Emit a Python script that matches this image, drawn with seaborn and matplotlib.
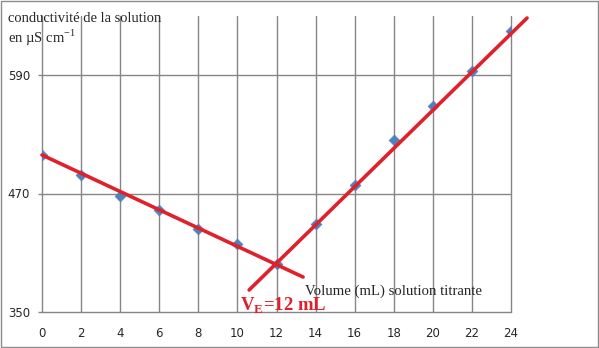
import matplotlib
matplotlib.use("Agg")
import matplotlib.pyplot as plt
import seaborn as sns
import pandas as pd
from matplotlib.patches import Rectangle

# Data
volume = [0, 2, 4, 6, 8, 10, 12, 14, 16, 18, 20, 22, 24]
conductivity = [509, 489, 467.5, 453, 434, 419, 399, 439, 479, 524, 559, 594, 635]
fit1_x = [0, 13.36]
fit1_y = [509, 385.4]
fit2_x = [10.6, 24.82]
fit2_y = [372.3, 647.7]
x_ticks = [0, 2, 4, 6, 8, 10, 12, 14, 16, 18, 20, 22, 24]
y_ticks = [350, 470, 590]

df = pd.DataFrame({"volume": volume, "conductivity": conductivity})
df1 = pd.DataFrame({"x": fit1_x, "y": fit1_y})
df2 = pd.DataFrame({"x": fit2_x, "y": fit2_y})

sns.set_style("white")
plt.rcParams['font.family'] = ['DejaVu Sans']

fig = plt.figure(figsize=(5.99, 3.48), dpi=100)
ax = fig.add_axes([42/599, 1-312/348, (511-42)/599, (312-15.75)/348])

grid_c = "#868686"
ax.set_xlim(0, 24)
ax.set_ylim(350, 650)
ax.set_xticks(x_ticks)
ax.set_yticks(y_ticks)
for xv in x_ticks:
    ax.axvline(xv, color=grid_c, lw=1.0, zorder=1)
for yv in y_ticks:
    ax.axhline(yv, color=grid_c, lw=1.0, zorder=1)
for s in ax.spines.values():
    s.set_visible(False)

sns.scatterplot(data=df, x="volume", y="conductivity", ax=ax, marker="D",
                s=30, color="#4F81BD", edgecolor="#4F81BD", linewidth=0.5, zorder=3)
sns.lineplot(data=df1, x="x", y="y", ax=ax, color="#E0202A", lw=2.6, zorder=4)
sns.lineplot(data=df2, x="x", y="y", ax=ax, color="#E0202A", lw=2.6, zorder=4)
for ln in ax.lines:
    ln.set_clip_on(False)

ax.tick_params(axis="y", which="both", left=True, length=3, width=1, color=grid_c,
               labelsize=8.5, pad=5.5)
ax.tick_params(axis="x", which="both", bottom=False, labelsize=8.5, pad=7)
ax.set_xlabel("")
ax.set_ylabel("")

serif = ["Liberation Serif", "DejaVu Serif"]
fig.text(8/599, 1-18/348, "conductivité de la solution", family=serif,
         fontsize=10.5, va="center", ha="left")
fig.text(8/599, 1-38/348, r"en µS cm$^\mathregular{-1}$", family=serif,
         fontsize=10.5, va="center", ha="left")
fig.text(305/599, 1-291/348, "Volume (mL) solution titrante",
         family=serif, fontsize=10.6, va="center", ha="left")
fig.text(240/599, 1-306/348, r"V$_\mathregular{E}$=12 mL", family=serif,
         fontsize=13.5, fontweight="bold", color="#E0202A", va="center", ha="left")

fig.add_artist(Rectangle((1/599, 1/348), 597/599, 346/348, transform=fig.transFigure,
                         fill=False, edgecolor="#8C8C8C", lw=1.0))

fig.savefig("out.png", dpi=100)
